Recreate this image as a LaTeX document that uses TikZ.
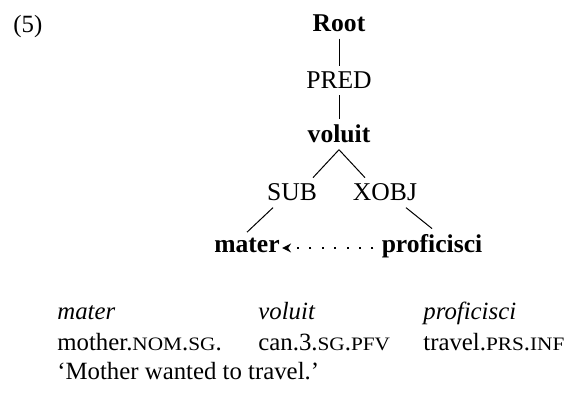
\documentclass[tikz,border=0pt]{standalone}
\usepackage{graphicx}
\usepackage{fontspec}
\setmainfont{Liberation Serif}
\usetikzlibrary{arrows.meta,positioning}

% fake small caps for the gloss
\newcommand{\gsc}[1]{\scalebox{1.12}[1]{\fontsize{9.5pt}{11pt}\selectfont #1}}

\begin{document}
\begin{tikzpicture}[
    x=0.5pt, y=-0.5pt,
    word/.style={font=\fontsize{12.8pt}{14pt}\selectfont\bfseries, inner sep=3pt, anchor=base},
    rel/.style={font=\fontsize{12.8pt}{14pt}\selectfont, inner sep=3pt, anchor=base},
    gloss/.style={font=\fontsize{12.4pt}{14pt}\selectfont, anchor=base west, inner sep=0pt},
    branch/.style={line width=0.5pt},
    depend/.style={line width=1pt, dash pattern=on 1pt off 5.2pt, -{Stealth[length=4.5pt,width=4.5pt,inset=1.5pt]}}
]
\useasboundingbox (0,0) rectangle (585,394);

% Example number
\node (num) [gloss] at (13,33) {(5)};

% Tree
\node (root) [word] at (339,32) {Root};
\node (pred) [rel] at (339,89) {PRED};
\node (voluit) [word] at (339,143) {voluit};
\node (sub) [rel] at (292,201) {SUB};
\node (xobj) [rel] at (385,201) {XOBJ};
\node (mater) [word] at (247,253) {mater};
\node (proficisci) [word] at (432,253) {proficisci};

% Branches
\draw [branch] (root) -- (pred);
\draw [branch] (pred) -- (voluit);
\draw [branch] (voluit.south) -- ([xshift=10.5pt]sub.north);
\draw [branch] (voluit.south) -- ([xshift=-10pt]xobj.north);
\draw [branch] ([xshift=-9.5pt]sub.south) -- (mater.north);
\draw [branch] ([xshift=10.5pt]xobj.south) -- (proficisci.north);

% Dependency
\draw [depend] ([xshift=-1pt,yshift=2.5pt]proficisci.base west) -- ([xshift=-2pt,yshift=2.5pt]mater.base east);

% Gloss
\node (g1) [gloss] at (57,320) {\itshape mater};
\node (g2) [gloss] at (258,320) {\itshape voluit};
\node (g3) [gloss] at (423,320) {\itshape proficisci};
\node (h1) [gloss] at (57,351) {mother.\gsc{NOM}.\gsc{SG}.};
\node (h2) [gloss] at (258,351) {can.3.\gsc{SG}.\gsc{PFV}};
\node (h3) [gloss] at (423,351) {travel.\gsc{PRS}.\gsc{INF}};
\node (trans) [gloss] at (57,380) {`Mother wanted to travel.'};

\end{tikzpicture}
\end{document}
